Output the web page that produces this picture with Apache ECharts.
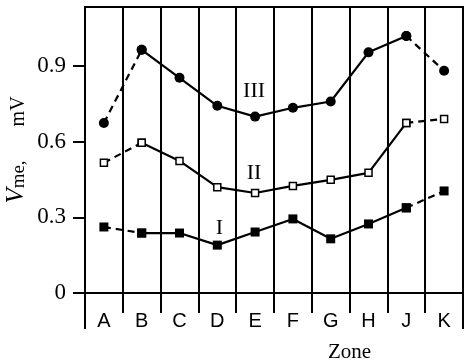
<!DOCTYPE html>
<html>
<head>
<meta charset="utf-8">
<script src="https://cdn.jsdelivr.net/npm/echarts@6/dist/echarts.min.js"></script>
<style>html,body{margin:0;padding:0;background:#fff;}#c{width:464px;height:364px;}</style>
</head>
<body>
<div id="c"></div>
<script>
const categories = ['A','B','C','D','E','F','G','H','J','K'];
const seriesI   = [0.262,0.238,0.238,0.190,0.242,0.294,0.215,0.274,0.338,0.405];
const seriesII  = [0.517,0.596,0.524,0.420,0.397,0.425,0.449,0.477,0.675,0.691];
const seriesIII = [0.675,0.965,0.854,0.743,0.700,0.735,0.760,0.955,1.020,0.882];
const yTicks = [0, 0.3, 0.6, 0.9];
const seriesNames = ['I','II','III'];

const serif = 'Liberation Serif';
const sans = 'Liberation Sans';

function solidPart(vals){ return vals.map((v,i)=> (i>=1 && i<=vals.length-2) ? v : null); }
function dashedPart(vals){ return vals.map((v,i)=> (i<=1 || i>=vals.length-2) ? v : null); }

function withLabel(arr, idx, text, dist){
  return arr.map((v,i)=> i===idx ? {value:v, label:{show:true, formatter:text, position:'top', distance:dist,
    fontFamily:serif, fontSize:22, color:'#000'}} : v);
}

const styles = [
  {vals: seriesI, symbol:'rect', size:9, item:{color:'#000'}, labelIdx:3, dist:1, dx:2},
  {vals: seriesII, symbol:'rect', size:7, item:{color:'#fff', borderColor:'#000', borderWidth:1.5}, labelIdx:4, dist:4, dx:-1},
  {vals: seriesIII, symbol:'circle', size:10, item:{color:'#000'}, labelIdx:4, dist:9, dx:-1}
];

const series = [];
styles.forEach((s, k)=>{
  series.push({
    type:'line', xAxisIndex:0, yAxisIndex:0, data: dashedPart(s.vals), symbol:s.symbol, symbolSize:s.size,
    itemStyle:s.item, lineStyle:{color:'#000', width:2.2, type:[7,5]}, connectNulls:false, z:2
  });
  series.push({
    type:'line', xAxisIndex:0, yAxisIndex:0, data: withLabel(solidPart(s.vals), s.labelIdx, seriesNames[k], s.dist),
    symbol:s.symbol, symbolSize:s.size, itemStyle:s.item, lineStyle:{color:'#000', width:2.2}, connectNulls:false, z:3,
    labelLayout:{dx:s.dx}
  });
});

const chart = echarts.init(document.getElementById('c'), null, {renderer:'canvas'});
chart.setOption({
  animation:false,
  backgroundColor:'#fff',
  title:{text:'Zone', left:328, top:342, padding:0, textStyle:{fontFamily:serif, fontSize:21, fontWeight:'normal', color:'#000'}},
  grid:[
    {left:85, right:1, top:7, bottom:71, show:true, borderColor:'#000', borderWidth:2, backgroundColor:'transparent',
     containLabel:false, outerBoundsMode:'none'},
    {left:85, right:1, top:7, bottom:71, containLabel:false, outerBoundsMode:'none'}
  ],
  xAxis:[
    {type:'category', gridIndex:0, data:categories, boundaryGap:true,
     axisLine:{lineStyle:{color:'#000', width:2}},
     axisTick:{show:true, interval:0, length:20, lineStyle:{color:'#000', width:2}},
     splitLine:{show:true, interval:0, lineStyle:{color:'#000', width:2}},
     axisLabel:{interval:0, margin:18, fontFamily:sans, fontSize:20, color:'#000'}},
    {type:'value', gridIndex:1, min:0, max:1, interval:1,
     axisLine:{show:false}, axisLabel:{show:false}, splitLine:{show:false},
     axisTick:{show:true, length:36, lineStyle:{color:'#000', width:2}}}
  ],
  yAxis:[
    {type:'value', gridIndex:0, min:0, max:1.135,
     axisLine:{show:true, lineStyle:{color:'#000', width:2}},
     axisTick:{show:true, length:12, customValues:yTicks, lineStyle:{color:'#000', width:2}},
     splitLine:{show:false},
     axisLabel:{customValues:yTicks, margin:19, fontFamily:serif, fontSize:23, color:'#000',
       formatter:(v)=> v===0 ? '0' : String(v)},
     name:'{v|V}{s|me,}{g|}{n|mV}', nameLocation:'middle', nameGap:56, nameMoveOverlap:false,
     nameTextStyle:{rich:{
       v:{fontFamily:serif, fontStyle:'italic', fontSize:25, lineHeight:28, color:'#000', verticalAlign:'bottom'},
       s:{fontFamily:serif, fontSize:19, lineHeight:28, color:'#000', verticalAlign:'bottom'},
       g:{width:34, lineHeight:28},
       n:{fontFamily:serif, fontSize:20, lineHeight:28, color:'#000', verticalAlign:'bottom'}
     }}},
    {type:'value', gridIndex:1, min:0, max:1, show:false}
  ],
  series: series
});
</script>
</body>
</html>
